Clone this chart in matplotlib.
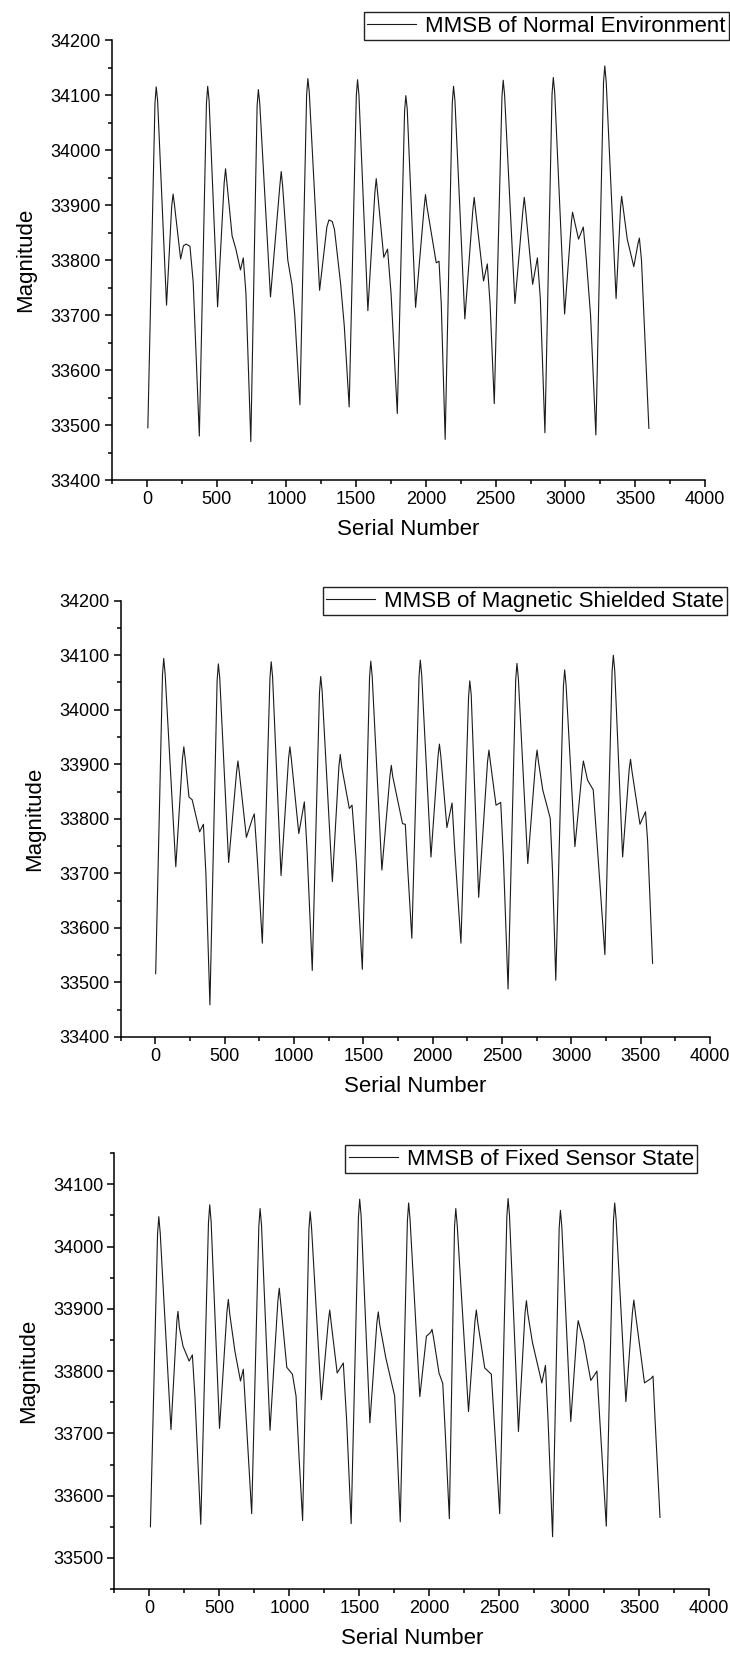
import matplotlib
matplotlib.use("Agg")
import matplotlib.pyplot as plt
from matplotlib.ticker import MultipleLocator

plt.rcParams['font.family'] = ['Liberation Sans', 'DejaVu Sans']

# panel 1 - normal environment
x_normal = [7, 58, 67, 77, 141, 178, 188, 198, 242, 262, 282, 309, 332, 376,
            427, 436, 446, 507, 554, 564, 574, 611, 638, 671, 691, 710, 745,
            790, 799, 809, 886, 953, 963, 973, 1010, 1040, 1060, 1097,
            1145, 1154, 1164, 1238, 1290, 1305, 1329, 1345, 1389, 1415, 1450,
            1501, 1510, 1520, 1584, 1634, 1644, 1654, 1698, 1725, 1750, 1795,
            1847, 1856, 1866, 1926, 1987, 1997, 2007, 2074, 2094, 2110, 2138,
            2189, 2198, 2208, 2279, 2336, 2346, 2356, 2413, 2440, 2460, 2490,
            2545, 2554, 2564, 2638, 2695, 2705, 2715, 2765, 2799, 2820, 2853,
            2904, 2913, 2923, 2994, 3043, 3051, 3094, 3128, 3150, 3180, 3218,
            3273, 3282, 3292, 3363, 3395, 3403, 3443, 3490, 3520, 3530, 3545, 3598]
y_normal = [33495, 34085, 34115, 34090, 33718, 33898, 33920, 33900, 33802, 33826, 33829, 33825, 33760, 33480,
            34085, 34116, 34090, 33715, 33940, 33966, 33940, 33844, 33820, 33782, 33804, 33740, 33470,
            34080, 34110, 34085, 33733, 33935, 33961, 33935, 33800, 33755, 33700, 33537,
            34100, 34130, 34105, 33745, 33860, 33873, 33870, 33855, 33756, 33680, 33533,
            34098, 34128, 34100, 33708, 33922, 33948, 33922, 33805, 33820, 33740, 33521,
            34070, 34099, 34075, 33714, 33895, 33919, 33898, 33795, 33798, 33720, 33474,
            34086, 34116, 34090, 33693, 33890, 33914, 33890, 33762, 33793, 33720, 33539,
            34097, 34127, 34100, 33721, 33890, 33914, 33890, 33756, 33804, 33730, 33486,
            34102, 34132, 34105, 33702, 33870, 33887, 33838, 33860, 33800, 33700, 33482,
            34123, 34153, 34125, 33730, 33895, 33916, 33838, 33788, 33830, 33840, 33800, 33494]

# panel 2 - magnetic shielded state
x_shield = [3, 52, 61, 71, 148, 196, 206, 216, 243, 266, 320, 347, 365, 394,
            446, 455, 465, 529, 586, 596, 606, 657, 700, 714, 735, 772,
            827, 836, 846, 907, 961, 971, 981, 1035, 1075, 1095, 1132,
            1184, 1193, 1203, 1277, 1324, 1334, 1344, 1399, 1419, 1450, 1493,
            1545, 1554, 1564, 1634, 1692, 1702, 1712, 1783, 1803, 1820, 1850,
            1902, 1911, 1921, 1988, 2039, 2049, 2059, 2103, 2140, 2160, 2204,
            2259, 2268, 2278, 2332, 2396, 2406, 2416, 2457, 2491, 2510, 2544,
            2599, 2608, 2618, 2686, 2743, 2753, 2763, 2794, 2848, 2865, 2888,
            2943, 2952, 2962, 3026, 3079, 3087, 3117, 3158, 3190, 3242,
            3294, 3303, 3313, 3370, 3417, 3427, 3437, 3495, 3535, 3550, 3586]
y_shield = [33516, 34064, 34094, 34066, 33712, 33910, 33932, 33910, 33840, 33835, 33776, 33790, 33700, 33459,
            34054, 34084, 34058, 33720, 33885, 33906, 33885, 33766, 33800, 33809, 33730, 33572,
            34058, 34088, 34060, 33696, 33910, 33932, 33910, 33773, 33831, 33740, 33522,
            34031, 34061, 34035, 33685, 33896, 33918, 33896, 33819, 33825, 33720, 33524,
            34059, 34089, 34062, 33706, 33878, 33898, 33878, 33791, 33790, 33710, 33581,
            34061, 34091, 34064, 33730, 33915, 33937, 33915, 33784, 33829, 33740, 33572,
            34023, 34053, 34028, 33656, 33905, 33926, 33905, 33825, 33830, 33730, 33488,
            34055, 34085, 34058, 33718, 33905, 33926, 33905, 33853, 33801, 33700, 33504,
            34043, 34073, 34046, 33749, 33890, 33906, 33871, 33853, 33740, 33551,
            34070, 34100, 34072, 33730, 33890, 33909, 33888, 33790, 33813, 33760, 33535]

# panel 3 - fixed sensor state
x_fixed = [7, 58, 67, 77, 154, 196, 204, 214, 240, 284, 307, 325, 367,
           422, 431, 441, 501, 554, 564, 574, 611, 651, 671, 695, 731,
           782, 791, 801, 862, 918, 928, 938, 982, 1022, 1048, 1070, 1095,
           1140, 1149, 1159, 1229, 1279, 1289, 1299, 1342, 1386, 1410, 1442,
           1494, 1503, 1513, 1576, 1626, 1636, 1646, 1690, 1753, 1770, 1793,
           1844, 1853, 1863, 1933, 1980, 2010, 2020, 2030, 2070, 2097, 2115, 2144,
           2181, 2190, 2200, 2281, 2327, 2337, 2347, 2397, 2444, 2470, 2504,
           2555, 2564, 2574, 2638, 2685, 2695, 2705, 2738, 2805, 2831, 2850, 2882,
           2929, 2938, 2948, 3012, 3057, 3065, 3105, 3155, 3185, 3199, 3220, 3266,
           3317, 3326, 3336, 3406, 3453, 3463, 3473, 3539, 3585, 3600, 3615, 3650]
y_fixed = [33550, 34020, 34048, 34022, 33706, 33880, 33896, 33870, 33840, 33816, 33826, 33760, 33554,
           34038, 34067, 34040, 33708, 33895, 33915, 33892, 33832, 33784, 33803, 33710, 33571,
           34032, 34061, 34035, 33705, 33912, 33933, 33910, 33806, 33795, 33760, 33660, 33560,
           34027, 34056, 34030, 33754, 33880, 33898, 33878, 33797, 33813, 33720, 33555,
           34047, 34076, 34050, 33717, 33878, 33895, 33875, 33821, 33760, 33680, 33558,
           34041, 34070, 34044, 33759, 33856, 33862, 33867, 33855, 33797, 33780, 33700, 33563,
           34032, 34061, 34035, 33735, 33880, 33898, 33878, 33805, 33795, 33700, 33571,
           34048, 34077, 34050, 33703, 33893, 33913, 33892, 33846, 33781, 33809, 33720, 33534,
           34029, 34058, 34032, 33719, 33865, 33881, 33847, 33785, 33795, 33800, 33720, 33551,
           34041, 34070, 34044, 33751, 33895, 33914, 33895, 33781, 33788, 33792, 33720, 33565]

labels = ['MMSB of Normal Environment', 'MMSB of Magnetic Shielded State',
          'MMSB of Fixed Sensor State']
ylims = [(33400, 34200), (33400, 34200), (33450, 34150)]

# axes boxes in figure fractions, legend anchors (right, bottom)
boxes = [[0.1534, 0.7103, 0.8123, 0.2655],
         [0.1652, 0.3742, 0.8074, 0.2633],
         [0.1568, 0.0410, 0.8144, 0.2631]]
leg_anchor = [(0.9986, 0.9759), (0.9959, 0.6288), (0.9548, 0.2921)]

fig = plt.figure(figsize=(7.30, 16.57), dpi=100)

series = [(x_normal, y_normal), (x_shield, y_shield), (x_fixed, y_fixed)]
for i, (xs, ys) in enumerate(series):
    ax = fig.add_axes(boxes[i])
    ax.plot(xs, ys, color='#1a1a1a', lw=0.8, label=labels[i])
    ax.set_xlim(-250, 4000)
    ax.set_ylim(*ylims[i])
    ax.xaxis.set_major_locator(MultipleLocator(500))
    ax.xaxis.set_minor_locator(MultipleLocator(250))
    ax.yaxis.set_major_locator(MultipleLocator(100))
    ax.yaxis.set_minor_locator(MultipleLocator(50))
    ax.spines['top'].set_visible(False)
    ax.spines['right'].set_visible(False)
    for s in ['left', 'bottom']:
        ax.spines[s].set_linewidth(1.1)
    ax.tick_params(which='major', direction='out', length=5, width=1.1,
                   labelsize=13, pad=3)
    ax.tick_params(which='minor', direction='out', length=3, width=1.1)
    ax.set_xlabel('Serial Number', fontsize=16, labelpad=8)
    ax.set_ylabel('Magnitude', fontsize=16, labelpad=10)
    leg = ax.legend(loc='lower right', bbox_to_anchor=leg_anchor[i],
                    bbox_transform=fig.transFigure, borderaxespad=0,
                    fontsize=16, fancybox=False, framealpha=1,
                    handlelength=2.2, handletextpad=0.4, borderpad=0.15)
    leg.get_frame().set_edgecolor('#222222')
    leg.get_frame().set_linewidth(1.0)

fig.savefig('out.png', dpi=100)
